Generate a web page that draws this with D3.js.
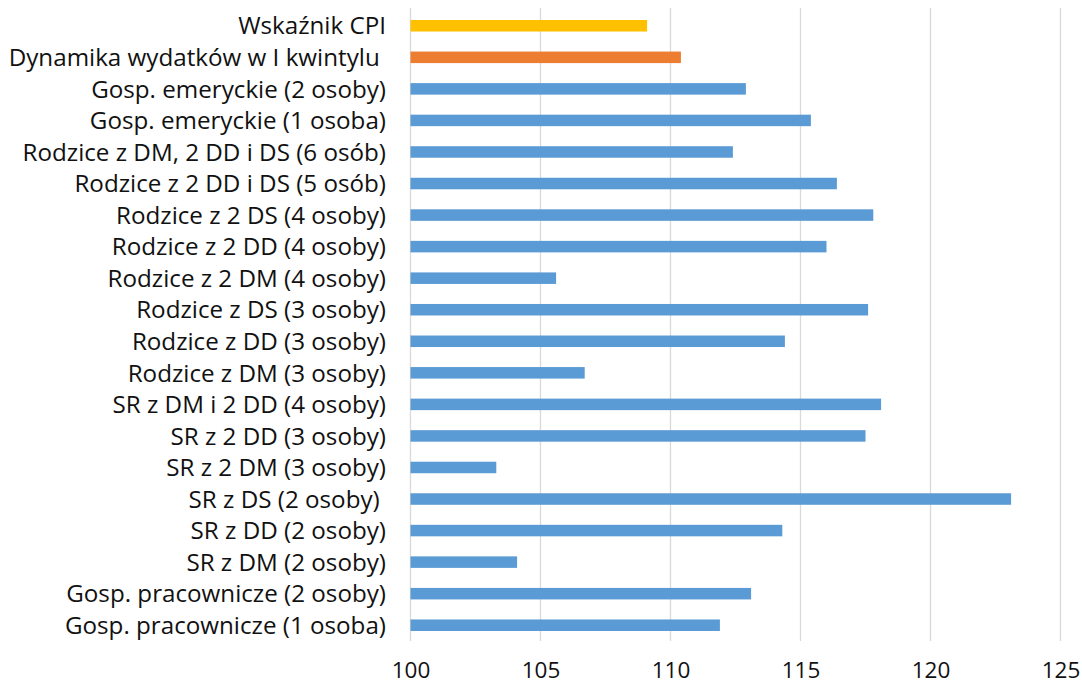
<!DOCTYPE html>
<html><head><meta charset="utf-8">
<script src="https://cdn.jsdelivr.net/npm/d3@7"></script>
<style>
body{margin:0;background:#fff;}
text{font-family:"Open Sans",sans-serif;}
</style></head>
<body>
<svg id="chart" width="1082" height="685"></svg>
<script>
const categories = [
  "Wskaźnik CPI",
  "Dynamika wydatków w I kwintylu ",
  "Gosp. emeryckie (2 osoby)",
  "Gosp. emeryckie (1 osoba)",
  "Rodzice z DM, 2 DD i DS (6 osób)",
  "Rodzice z 2 DD i DS (5 osób)",
  "Rodzice z 2 DS (4 osoby)",
  "Rodzice z 2 DD (4 osoby)",
  "Rodzice z 2 DM (4 osoby)",
  "Rodzice z DS (3 osoby)",
  "Rodzice z DD (3 osoby)",
  "Rodzice z DM (3 osoby)",
  "SR z DM i 2 DD (4 osoby)",
  "SR z 2 DD (3 osoby)",
  "SR z 2 DM (3 osoby)",
  "SR z DS (2 osoby) ",
  "SR z DD (2 osoby)",
  "SR z DM (2 osoby)",
  "Gosp. pracownicze (2 osoby)",
  "Gosp. pracownicze (1 osoba)"
];
const values = [109.1, 110.4, 112.9, 115.4, 112.4, 116.4, 117.8, 116.0, 105.6, 117.6,
                114.4, 106.7, 118.1, 117.5, 103.3, 123.1, 114.3, 104.1, 113.1, 111.9];
const barColors = ["#FFC000", "#ED7D31"]; // others blue
const defaultColor = "#5B9BD5";
const xTicks = [100, 105, 110, 115, 120, 125];

const svg = d3.select("#chart");
const mLeft = 410.5, mRight = 1060.5, mTop = 10, mBottom = 641;

const x = d3.scaleLinear().domain([100, 125]).range([mLeft, mRight]);
const y = d3.scaleBand().domain(categories).range([mTop, mBottom]).paddingInner(0.635).paddingOuter(0.3175);

// gridlines
svg.append("g").selectAll("line").data(xTicks).join("line")
  .attr("x1", d => x(d)).attr("x2", d => x(d))
  .attr("y1", mTop - 2).attr("y2", mBottom)
  .attr("stroke", "#d9d9d9").attr("stroke-width", 1.3);

// bars
svg.append("g").selectAll("rect").data(values).join("rect")
  .attr("x", x(100))
  .attr("y", (d, i) => y(categories[i]))
  .attr("width", d => x(d) - x(100))
  .attr("height", y.bandwidth())
  .attr("fill", (d, i) => barColors[i] || defaultColor);

// category labels
svg.append("g").selectAll("text").data(categories).join("text")
  .attr("x", 386)
  .attr("y", d => y(d) + y.bandwidth() / 2)
  .attr("dy", "0.36em")
  .attr("text-anchor", "end")
  .attr("font-size", 24.2)
  .attr("fill", "#111")
  .style("white-space", "pre")
  .text(d => d);

// x axis tick labels
const xAxis = d3.axisBottom(x).tickValues(xTicks).tickSize(0).tickPadding(0).tickFormat(d3.format("d"));
const gx = svg.append("g").attr("transform", `translate(0,${mBottom})`).call(xAxis);
gx.select(".domain").remove();
gx.selectAll("text").attr("font-size", 22.5).attr("fill", "#111")
  .attr("font-family", "Open Sans, sans-serif")
  .attr("y", 37).attr("dy", 0);
</script>
</body></html>
